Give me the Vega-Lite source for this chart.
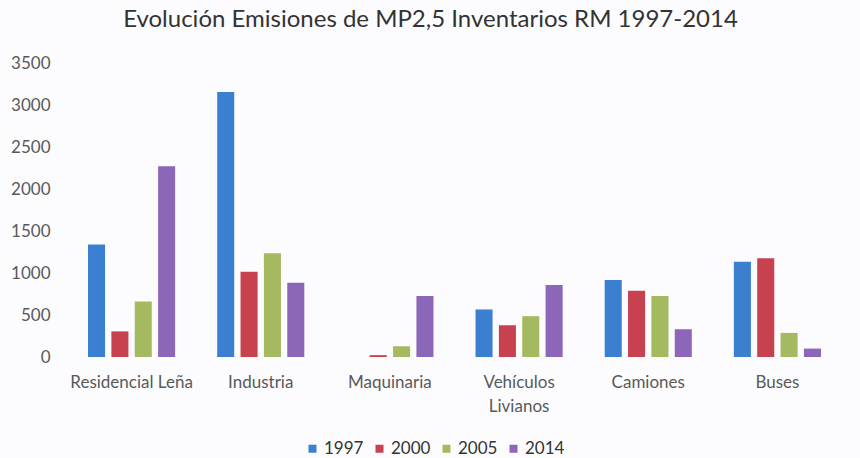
{
  "$schema": "https://vega.github.io/schema/vega-lite/v6.json",
  "width": 775,
  "height": 294,
  "autosize": {"type": "none"},
  "padding": {"left": 67, "top": 63, "right": 18, "bottom": 101},
  "background": "#fcfcfe",
  "title": {
    "text": "Evolución Emisiones de MP2,5 Inventarios RM 1997-2014",
    "font": "Lato",
    "fontSize": 24,
    "fontWeight": "normal",
    "color": "#333333",
    "anchor": "middle",
    "dx": -24,
    "offset": 22
  },
  "data": {
    "values": [
      {"sector": "Residencial Leña", "year": "1997", "value": 1340},
      {"sector": "Residencial Leña", "year": "2000", "value": 305},
      {"sector": "Residencial Leña", "year": "2005", "value": 660},
      {"sector": "Residencial Leña", "year": "2014", "value": 2270},
      {"sector": "Industria", "year": "1997", "value": 3155},
      {"sector": "Industria", "year": "2000", "value": 1015},
      {"sector": "Industria", "year": "2005", "value": 1235},
      {"sector": "Industria", "year": "2014", "value": 885},
      {"sector": "Maquinaria", "year": "1997", "value": 0},
      {"sector": "Maquinaria", "year": "2000", "value": 22},
      {"sector": "Maquinaria", "year": "2005", "value": 128},
      {"sector": "Maquinaria", "year": "2014", "value": 725},
      {"sector": "Vehículos Livianos", "year": "1997", "value": 566},
      {"sector": "Vehículos Livianos", "year": "2000", "value": 378},
      {"sector": "Vehículos Livianos", "year": "2005", "value": 486},
      {"sector": "Vehículos Livianos", "year": "2014", "value": 857},
      {"sector": "Camiones", "year": "1997", "value": 916},
      {"sector": "Camiones", "year": "2000", "value": 789},
      {"sector": "Camiones", "year": "2005", "value": 725},
      {"sector": "Camiones", "year": "2014", "value": 331},
      {"sector": "Buses", "year": "1997", "value": 1135},
      {"sector": "Buses", "year": "2000", "value": 1175},
      {"sector": "Buses", "year": "2005", "value": 287},
      {"sector": "Buses", "year": "2014", "value": 100}
    ]
  },
  "mark": {"type": "bar"},
  "encoding": {
    "x": {
      "field": "sector",
      "type": "nominal",
      "sort": null,
      "scale": {"paddingInner": 0, "paddingOuter": 0},
      "axis": {
        "title": null,
        "labelAngle": 0,
        "domain": false,
        "ticks": false,
        "labelFont": "Lato",
        "labelFontSize": 17,
        "labelColor": "#595959",
        "labelPadding": 17,
        "labelLineHeight": 24,
        "labelExpr": "datum.label == 'Vehículos Livianos' ? ['Vehículos', 'Livianos'] : datum.label"
      }
    },
    "xOffset": {
      "field": "year",
      "type": "nominal",
      "scale": {"paddingInner": 0.27, "paddingOuter": 0.9}
    },
    "y": {
      "field": "value",
      "type": "quantitative",
      "scale": {"domain": [0, 3500]},
      "axis": {
        "title": null,
        "format": "d",
        "values": [0, 500, 1000, 1500, 2000, 2500, 3000, 3500],
        "grid": false,
        "domain": false,
        "ticks": false,
        "labelFont": "Lato",
        "labelFontSize": 17,
        "labelColor": "#595959",
        "labelPadding": 17
      }
    },
    "color": {
      "field": "year",
      "type": "nominal",
      "scale": {
        "domain": ["1997", "2000", "2005", "2014"],
        "range": ["#3a7fd0", "#c8414f", "#a4b960", "#8c66b8"]
      },
      "legend": {
        "title": null,
        "orient": "none",
        "legendX": 237,
        "legendY": 377,
        "direction": "horizontal",
        "symbolType": "square",
        "symbolSize": 64,
        "symbolOffset": 0,
        "labelOffset": 3,
        "labelFont": "Lato",
        "labelFontSize": 17,
        "labelColor": "#333333",
        "columnPadding": 7
      }
    }
  },
  "config": {"view": {"stroke": null}}
}
